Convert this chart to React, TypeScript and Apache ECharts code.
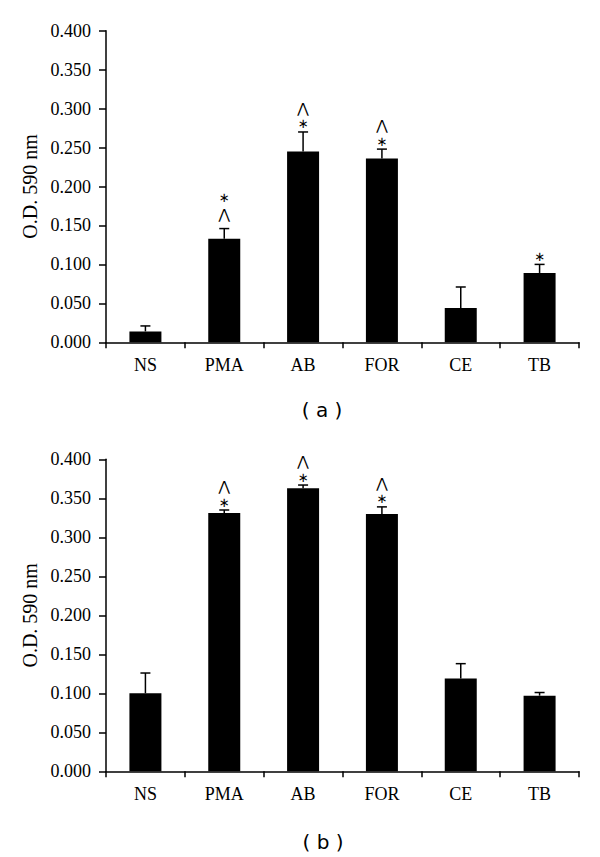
import React, { useEffect, useRef } from "react";
import * as echarts from "echarts";

const categories = ["NS", "PMA", "AB", "FOR", "CE", "TB"];

// Panel (a)
const meanA = [0.014, 0.133, 0.245, 0.236, 0.044, 0.089];
const errA = [0.007, 0.013, 0.025, 0.012, 0.027, 0.011];
// significance marks, listed from bottom (nearest the bar) to top
const marksA = [[], ["⋀", "∗"], ["∗", "⋀"], ["∗", "⋀"], [], ["∗"]];

// Panel (b)
const meanB = [0.1, 0.331, 0.363, 0.33, 0.119, 0.097];
const errB = [0.026, 0.004, 0.004, 0.009, 0.019, 0.004];
const marksB = [[], ["∗", "⋀"], ["∗", "⋀"], ["∗", "⋀"], [], []];

const yTitle = "O.D. 590 nm";
const panelLabels = ["( a )", "( b )"];

const SERIF = "Liberation Serif";

function errSeries(idx: number, mean: number[], err: number[], marks: string[][]) {
  return {
    type: "custom",
    xAxisIndex: idx,
    yAxisIndex: idx,
    clip: false,
    z: 5,
    data: mean.map((v, i) => [i, v, err[i]]),
    renderItem: (params: any, api: any) => {
      const x = api.value(0);
      const v = api.value(1);
      const e = api.value(2);
      const base = api.coord([x, v]);
      const top = api.coord([x, v + e]);
      const cap = 5;
      const ls = { stroke: "#000", lineWidth: 1.5 };
      const children: any[] = [
        { type: "line", shape: { x1: base[0], y1: base[1], x2: top[0], y2: top[1] }, style: ls },
        { type: "line", shape: { x1: top[0] - cap, y1: top[1], x2: top[0] + cap, y2: top[1] }, style: ls },
      ];
      const ms = marks[params.dataIndex] || [];
      let y = top[1];
      ms.forEach((m, i) => {
        y -= i === 0 ? (m === "⋀" ? 15 : 8) : 16;
        children.push({
          type: "text",
          x: top[0],
          y,
          style: {
            text: m,
            fill: "#000",
            fontFamily: "DejaVu Sans",
            fontSize: m === "⋀" ? 14 : 13,
            align: "center",
            verticalAlign: "middle",
          },
        });
      });
      return { type: "group", children };
    },
  };
}

export default function App() {
  const ref = useRef<HTMLDivElement>(null);
  useEffect(() => {
    document.body.style.margin = "0";
    const chart = echarts.init(ref.current!, null, { renderer: "svg" });
    const axisLine = { lineStyle: { color: "#000", width: 1.5 } };
    const mkX = (idx: number) => ({
      type: "category",
      gridIndex: idx,
      data: categories,
      boundaryGap: true,
      axisLine,
      axisTick: { show: true, length: 6, lineStyle: { color: "#000", width: 1.5 } },
      axisLabel: { color: "#000", fontFamily: SERIF, fontSize: 18, margin: 14 },
    });
    const mkY = (idx: number) => ({
      type: "value",
      gridIndex: idx,
      min: 0,
      max: 0.4,
      interval: 0.05,
      name: yTitle,
      nameLocation: "middle",
      nameGap: 64,
      nameRotate: 90,
      nameTextStyle: { color: "#000", fontFamily: SERIF, fontSize: 20 },
      axisLine: { show: true, ...axisLine },
      axisTick: { show: true, length: 7, lineStyle: { color: "#000", width: 1.5 } },
      axisLabel: {
        color: "#000",
        fontFamily: SERIF,
        fontSize: 18,
        margin: 15,
        formatter: (v: number) => v.toFixed(3),
      },
      splitLine: { show: false },
    });
    const labelStyle = {
      fill: "#000",
      fontFamily: "DejaVu Sans",
      fontSize: 20,
      align: "center",
      verticalAlign: "middle",
    };
    chart.setOption({
      animation: false,
      backgroundColor: "#fff",
      grid: [
        { left: 106, top: 30.7, width: 473, height: 311.6 },
        { left: 106, top: 459.3, width: 473, height: 312 },
      ],
      xAxis: [mkX(0), mkX(1)],
      yAxis: [mkY(0), mkY(1)],
      graphic: [
        { type: "text", x: 322, y: 410, style: { text: panelLabels[0], ...labelStyle } },
        { type: "text", x: 323, y: 842, style: { text: panelLabels[1], ...labelStyle } },
      ],
      series: [
        {
          type: "bar",
          xAxisIndex: 0,
          yAxisIndex: 0,
          data: meanA,
          barWidth: 32,
          itemStyle: { color: "#000" },
        },
        errSeries(0, meanA, errA, marksA),
        {
          type: "bar",
          xAxisIndex: 1,
          yAxisIndex: 1,
          data: meanB,
          barWidth: 32,
          itemStyle: { color: "#000" },
        },
        errSeries(1, meanB, errB, marksB),
      ],
    });
    return () => chart.dispose();
  }, []);
  return (
    <div
      ref={ref}
      style={{ position: "absolute", left: 0, top: 0, width: 600, height: 857 }}
    />
  );
}
